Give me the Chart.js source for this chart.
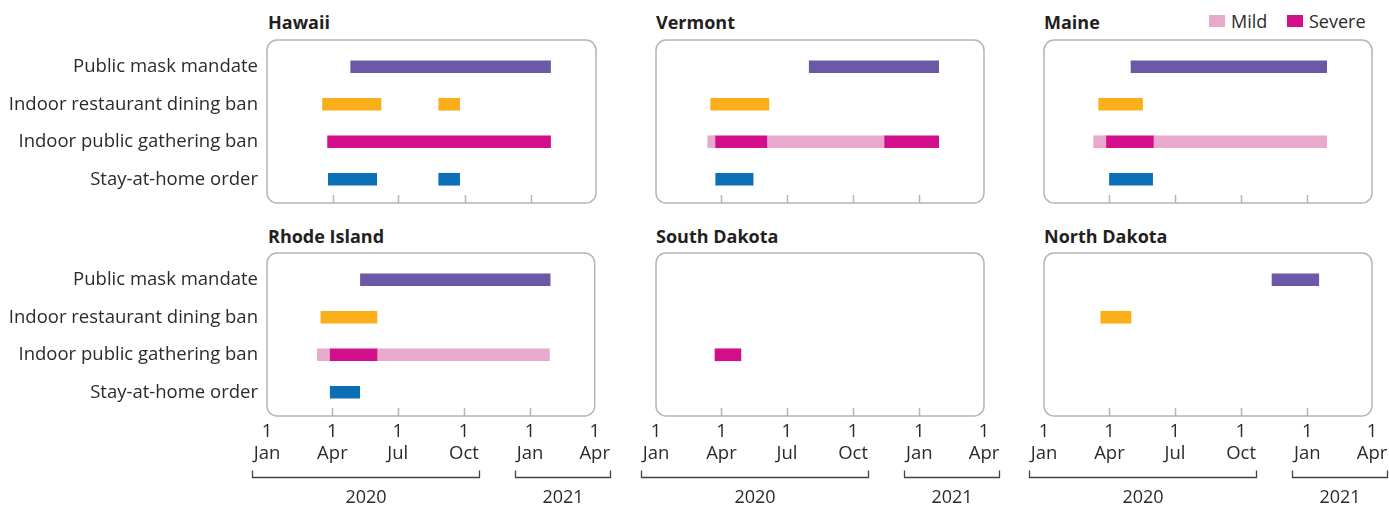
<!DOCTYPE html>
<html lang="en">
<head>
<meta charset="UTF-8">
<title>State restrictions 2020-2021</title>
<script src="https://cdn.jsdelivr.net/npm/chart.js"></script>
<style>
  body { margin:0; width:1389px; height:506px; overflow:hidden; background:#fff; position:relative;
         font-family:"Open Sans", sans-serif; color:#231f20; }
  canvas { position:absolute; }
  .title { position:absolute; font-weight:700; font-size:18px; line-height:20px; white-space:nowrap; }
  .sw { position:absolute; top:15px; width:16px; height:12px; }
  .lg { position:absolute; top:10px; font-size:18px; line-height:22px; color:#2b2b2b; }
</style>
</head>
<body>
  <div class="title" style="left:268px;top:12px">Hawaii</div>
  <div class="title" style="left:656px;top:12px">Vermont</div>
  <div class="title" style="left:1044px;top:12px">Maine</div>
  <div class="title" style="left:268px;top:226px">Rhode Island</div>
  <div class="title" style="left:656px;top:226px">South Dakota</div>
  <div class="title" style="left:1044px;top:226px">North Dakota</div>

  <div class="sw" style="left:1209px;background:#e8a9cc"></div>
  <div class="lg" style="left:1231px">Mild</div>
  <div class="sw" style="left:1287px;background:#d20e8b"></div>
  <div class="lg" style="left:1309px">Severe</div>

  <canvas id="hawaii" width="620" height="225" style="left:0;top:0"></canvas>
  <canvas id="vermont" width="390" height="225" style="left:620px;top:0"></canvas>
  <canvas id="maine" width="400" height="225" style="left:1010px;top:0"></canvas>
  <canvas id="rhodeIsland" width="620" height="281" style="left:0;top:225px"></canvas>
  <canvas id="southDakota" width="390" height="281" style="left:620px;top:225px"></canvas>
  <canvas id="northDakota" width="400" height="281" style="left:1010px;top:225px"></canvas>
<script>

const categories = ['Public mask mandate', 'Indoor restaurant dining ban', 'Indoor public gathering ban', 'Stay-at-home order'];

const tickDates = ['2020-01-01', '2020-04-01', '2020-07-01', '2020-10-01', '2021-01-01', '2021-04-01'];
const tickLabels = [['1', 'Jan'], ['1', 'Apr'], ['1', 'Jul'], ['1', 'Oct'], ['1', 'Jan'], ['1', 'Apr']];
const yearSpans = [['2020', '2020-01-01', '2020-10-01'], ['2021', '2021-01-01', '2021-04-01']];

// [category, start, end, level]
const hawaii = [
  ['Public mask mandate', '2020-04-26', '2021-01-28'],
  ['Indoor restaurant dining ban', '2020-03-18', '2020-06-07'],
  ['Indoor restaurant dining ban', '2020-08-26', '2020-09-24'],
  ['Indoor public gathering ban', '2020-03-25', '2021-01-28', 'severe'],
  ['Stay-at-home order', '2020-03-26', '2020-06-01'],
  ['Stay-at-home order', '2020-08-26', '2020-09-24'],
];
const vermont = [
  ['Public mask mandate', '2020-08-01', '2021-01-28'],
  ['Indoor restaurant dining ban', '2020-03-17', '2020-06-06'],
  ['Indoor public gathering ban', '2020-03-13', '2020-03-23', 'mild'],
  ['Indoor public gathering ban', '2020-03-23', '2020-06-03', 'severe'],
  ['Indoor public gathering ban', '2020-06-03', '2020-11-13', 'mild'],
  ['Indoor public gathering ban', '2020-11-13', '2021-01-28', 'severe'],
  ['Stay-at-home order', '2020-03-24', '2020-05-15'],
];
const maine = [
  ['Public mask mandate', '2020-05-01', '2021-01-28'],
  ['Indoor restaurant dining ban', '2020-03-17', '2020-05-17'],
  ['Indoor public gathering ban', '2020-03-10', '2020-03-27', 'mild'],
  ['Indoor public gathering ban', '2020-03-27', '2020-06-01', 'severe'],
  ['Indoor public gathering ban', '2020-06-01', '2021-01-28', 'mild'],
  ['Stay-at-home order', '2020-04-01', '2020-05-31'],
];
const rhodeIsland = [
  ['Public mask mandate', '2020-05-10', '2021-01-29'],
  ['Indoor restaurant dining ban', '2020-03-16', '2020-06-02'],
  ['Indoor public gathering ban', '2020-03-11', '2020-03-28', 'mild'],
  ['Indoor public gathering ban', '2020-03-28', '2020-06-02', 'severe'],
  ['Indoor public gathering ban', '2020-06-02', '2021-01-28', 'mild'],
  ['Stay-at-home order', '2020-03-29', '2020-05-09'],
];
const southDakota = [
  ['Indoor public gathering ban', '2020-03-23', '2020-04-28', 'severe'],
];
const northDakota = [
  ['Public mask mandate', '2020-11-13', '2021-01-17'],
  ['Indoor restaurant dining ban', '2020-03-20', '2020-05-01'],
];

const colors = {
  'Public mask mandate': '#6b59a5',
  'Indoor restaurant dining ban': '#f9ae1a',
  'Indoor public gathering ban': '#d20e8b',
  'Stay-at-home order': '#0b6fb8',
};
const mildColor = '#e8a9cc';
const textColor = '#2b2b2b';
const boxColor = '#b5b5b5';
const font = { family: 'Open Sans', size: 18.5, lineHeight: 1.17 };

function day(s) {
  const [y, m, d] = s.split('-').map(Number);
  return (Date.UTC(y, m - 1, d) - Date.UTC(2020, 0, 1)) / 86400000;
}
const tickDays = tickDates.map(day);

// rounded frame round the plot + small inner ticks along the bottom
const panelBox = {
  id: 'panelBox',
  beforeDatasetsDraw(chart) {
    const { ctx, chartArea: a, scales: { x } } = chart;
    ctx.save();
    ctx.strokeStyle = boxColor;
    ctx.lineWidth = 1.5;
    ctx.beginPath();
    ctx.roundRect(a.left, a.top - 8, a.right - a.left, a.bottom - a.top + 13, 10);
    ctx.stroke();
    ctx.beginPath();
    tickDays.slice(1, -1).forEach(d => {
      const px = Math.round(x.getPixelForValue(d)) + 0.5;
      ctx.moveTo(px, a.bottom + 5);
      ctx.lineTo(px, a.bottom - 3);
    });
    ctx.stroke();
    ctx.restore();
  }
};

const yearBrackets = {
  id: 'yearBrackets',
  afterDraw(chart, args, opts) {
    if (!opts.show) return;
    const { ctx, chartArea: a, scales: { x } } = chart;
    const y = Math.round(a.bottom + 66) + 0.5;
    ctx.save();
    ctx.strokeStyle = '#444';
    ctx.lineWidth = 1.3;
    ctx.fillStyle = textColor;
    ctx.font = '18px "Open Sans"';
    ctx.textAlign = 'center';
    ctx.textBaseline = 'middle';
    yearSpans.forEach(([label, from, to]) => {
      const x0 = Math.round(x.getPixelForValue(day(from)) - 15) + 0.5;
      const x1 = Math.round(x.getPixelForValue(day(to)) + 15) + 0.5;
      ctx.beginPath();
      ctx.moveTo(x0, y - 7);
      ctx.lineTo(x0, y);
      ctx.lineTo(x1, y);
      ctx.lineTo(x1, y - 7);
      ctx.stroke();
      ctx.fillText(label, (x0 + x1) / 2, y + 20);
    });
    ctx.restore();
  }
};

function makePanel(id, segments, showY, showX, padding) {
  const datasets = segments.map(([cat, start, end, level]) => ({
    data: categories.map(c => c === cat ? [day(start), day(end)] : null),
    backgroundColor: level === 'mild' ? mildColor : colors[cat],
    barThickness: 12,
    grouped: false,
    borderWidth: 0,
  }));

  new Chart(document.getElementById(id), {
    type: 'bar',
    data: { labels: categories, datasets },
    plugins: [panelBox, yearBrackets],
    options: {
      indexAxis: 'y',
      responsive: false,
      animation: false,
      events: [],
      layout: { padding },
      plugins: {
        legend: { display: false },
        tooltip: { enabled: false },
        yearBrackets: { show: showX },
      },
      scales: {
        x: {
          type: 'linear', min: 0, max: 456, display: showX,
          grid: { display: false, drawTicks: false },
          border: { display: false },
          afterBuildTicks: s => { s.ticks = tickDays.map(v => ({ value: v })); },
          afterFit: s => { if (showX) s.height = 95; },
          ticks: {
            autoSkip: false, maxRotation: 0, padding: 10, color: textColor, font,
            callback: (v, i) => tickLabels[i],
          },
        },
        y: {
          type: 'category', display: showY,
          grid: { display: false, drawTicks: false },
          border: { display: false },
          afterFit: s => { if (showY) s.width = 267; },
          ticks: { autoSkip: false, padding: 9, color: textColor, font },
        },
      },
    },
  });
}

makePanel('hawaii', hawaii, true, false, { left: 0, right: 24, top: 48, bottom: 27 });
makePanel('vermont', vermont, false, false, { left: 36, right: 26, top: 48, bottom: 27 });
makePanel('maine', maine, false, false, { left: 34, right: 38, top: 48, bottom: 27 });
makePanel('rhodeIsland', rhodeIsland, true, true, { left: 0, right: 24, top: 36, bottom: 0 });
makePanel('southDakota', southDakota, false, true, { left: 36, right: 26, top: 36, bottom: 0 });
makePanel('northDakota', northDakota, false, true, { left: 34, right: 38, top: 36, bottom: 0 });

</script>
</body>
</html>
